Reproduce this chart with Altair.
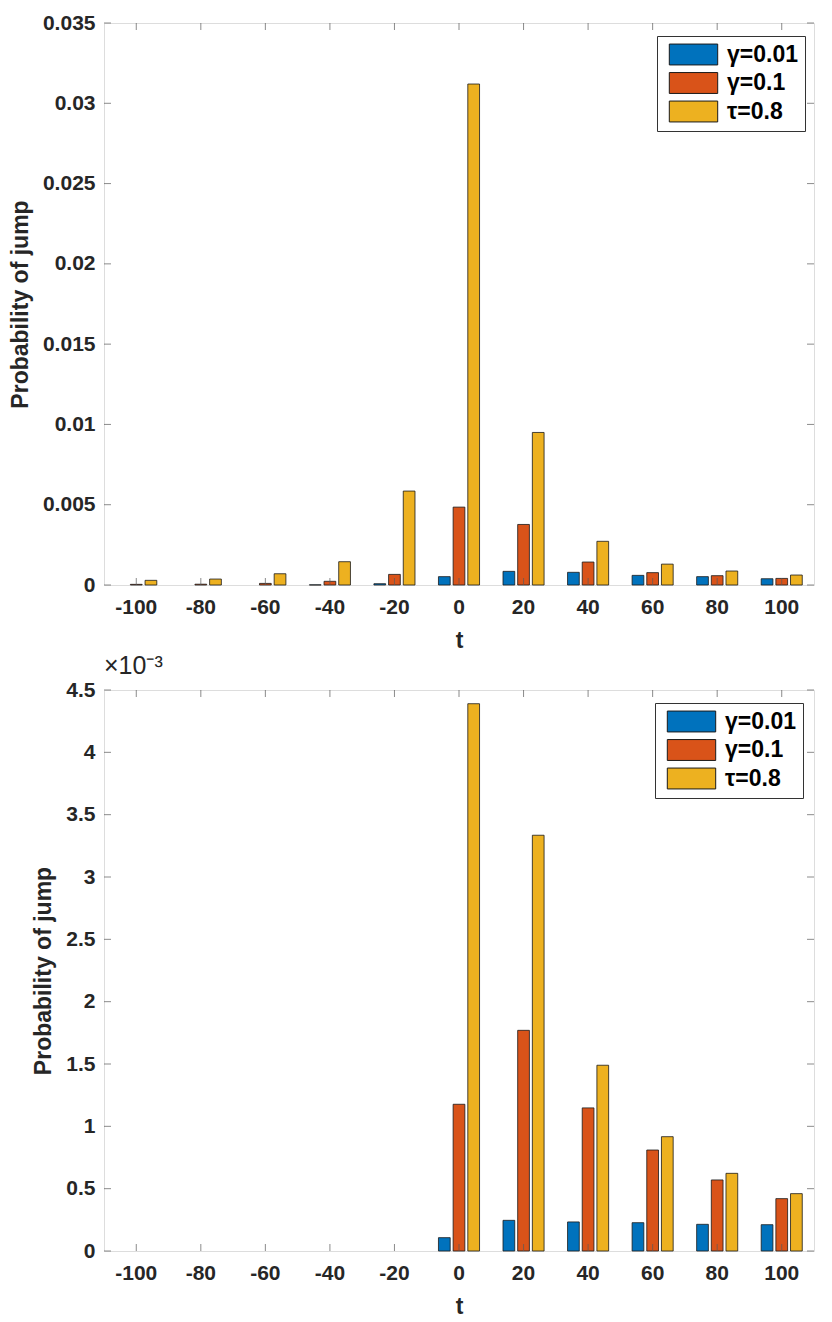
import altair as alt
import pandas as pd

t_values = [-100, -80, -60, -40, -20, 0, 20, 40, 60, 80, 100]
series = ["γ=0.01", "γ=0.1", "τ=0.8"]
colors = ["#0072BD", "#D95319", "#EDB120"]

# top panel
top_g001 = [0.0, 0.0, 0.0, 0.00001, 0.00008, 0.00052, 0.00085, 0.00079, 0.00060, 0.00052, 0.00039]
top_g01 = [0.00004, 0.00005, 0.00010, 0.00023, 0.00066, 0.00485, 0.00377, 0.00143, 0.00077, 0.00058, 0.00041]
top_t08 = [0.00029, 0.00037, 0.00070, 0.00145, 0.00585, 0.03120, 0.00950, 0.00272, 0.00130, 0.00087, 0.00062]
top_yticks = [0, 0.005, 0.01, 0.015, 0.02, 0.025, 0.03, 0.035]

# bottom panel
bot_g001 = [0.0, 0.0, 0.0, 0.0, 0.0, 0.000107, 0.000246, 0.000233, 0.000227, 0.000214, 0.000211]
bot_g01 = [0.0, 0.0, 0.0, 0.0, 0.0, 0.001177, 0.001770, 0.001148, 0.000810, 0.000570, 0.000420]
bot_t08 = [0.0, 0.0, 0.0, 0.0, 0.0, 0.004390, 0.003335, 0.001490, 0.000917, 0.000623, 0.000460]
bot_yticks = [0, 0.0005, 0.001, 0.0015, 0.002, 0.0025, 0.003, 0.0035, 0.004, 0.0045]

W = 710
FONT = "Liberation Sans"
TXT = "#262626"
FRAME = "#5a5a5a"
RECT = "M-2.2,-0.95L2.2,-0.95L2.2,0.95L-2.2,0.95Z"


def panel(vals_lists, ymax, yticks, H, label_expr, legend_x, legend_y, title=None):
    rows = []
    for s, vals in zip(series, vals_lists):
        for t, v in zip(t_values, vals):
            rows.append({"t": t, "series": s, "p": v})
    df = pd.DataFrame(rows)

    xscale = alt.Scale(domain=t_values, paddingInner=0, paddingOuter=0)
    yscale = alt.Scale(domain=[0, ymax], nice=False, zero=True)

    yaxis = alt.Axis(
        title="Probability of jump", values=yticks, ticks=False, domain=False, grid=False,
        labelFontSize=21, labelFont=FONT, labelFontWeight="bold", labelColor=TXT, labelPadding=9,
        titleFontSize=23, titleFont=FONT, titleFontWeight="bold", titleColor=TXT, titlePadding=10,
        labelFlush=False,
    )
    if label_expr:
        yaxis["labelExpr"] = label_expr
    else:
        yaxis["format"] = "~g"

    bars = alt.Chart(df).transform_filter("datum.p > 0").mark_bar(
        stroke="#1a1a1a", strokeWidth=0.8, opacity=1).encode(
        x=alt.X("t:O", sort=t_values, scale=xscale,
                axis=alt.Axis(title="t", labelAngle=0, ticks=False, domain=False,
                              labelFontSize=21, labelFont=FONT, labelFontWeight="bold",
                              labelColor=TXT, labelPadding=11,
                              titleFontSize=23, titleFont=FONT, titleFontWeight="bold",
                              titleColor=TXT, titlePadding=12)),
        xOffset=alt.XOffset("series:N", sort=series,
                            scale=alt.Scale(domain=series, paddingInner=0.2, paddingOuter=0.8)),
        y=alt.Y("p:Q", scale=yscale, axis=yaxis),
        color=alt.Color("series:N", sort=series,
                        scale=alt.Scale(domain=series, range=colors),
                        legend=alt.Legend(
                            title=None, orient="none", legendX=legend_x, legendY=legend_y,
                            symbolType=RECT, symbolSize=484, symbolStrokeColor="#1a1a1a",
                            symbolStrokeWidth=1, symbolOpacity=1, symbolOffset=18,
                            labelOffset=22, labelFont=FONT, labelFontSize=23,
                            labelFontWeight="bold", labelColor="black",
                            rowPadding=3.5, padding=7, strokeColor="#333333", fillColor="white",
                        )),
    )

    tdf = pd.DataFrame({"t": t_values})
    ydf = pd.DataFrame({"v": yticks})
    xt_bottom = alt.Chart(tdf).mark_tick(orient="vertical", size=7, thickness=1, color=FRAME).encode(
        x=alt.X("t:O", sort=t_values, scale=xscale), y=alt.value(H - 3.5))
    xt_top = alt.Chart(tdf).mark_tick(orient="vertical", size=7, thickness=1, color=FRAME).encode(
        x=alt.X("t:O", sort=t_values, scale=xscale), y=alt.value(3.5))
    yt_left = alt.Chart(ydf).mark_tick(orient="horizontal", size=7, thickness=1, color=FRAME).encode(
        y=alt.Y("v:Q", scale=yscale), x=alt.value(3.5))
    yt_right = alt.Chart(ydf).mark_tick(orient="horizontal", size=7, thickness=1, color=FRAME).encode(
        y=alt.Y("v:Q", scale=yscale), x=alt.value(W - 3.5))

    props = dict(width=W, height=H)
    if title is not None:
        props["title"] = title
    return alt.layer(bars, xt_bottom, xt_top, yt_left, yt_right).properties(**props)


top = panel([top_g001, top_g01, top_t08], 0.035, top_yticks, 562, None, 553, 13)
bottom = panel([bot_g001, bot_g01, bot_t08], 0.0045, bot_yticks, 561,
               "format(datum.value * 1000, '~g')", 551, 13,
               title=alt.TitleParams("×10⁻³", anchor="start", frame="group", fontSize=25,
                                     font=FONT, fontWeight="normal", color=TXT, offset=0))

chart = alt.vconcat(top, bottom, spacing=0).resolve_legend(color="independent").properties(
    padding={"left": 0, "top": 3, "right": 5, "bottom": 5}
).configure_view(stroke=FRAME, strokeWidth=1).configure(background="white")

chart.save("out.html", embed_options={"renderer": "svg", "actions": False})
